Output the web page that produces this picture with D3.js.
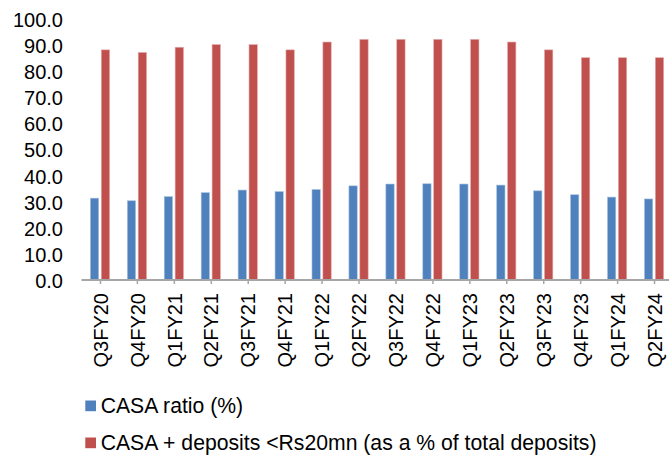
<!DOCTYPE html>
<html>
<head>
<meta charset="utf-8">
<script src="https://cdn.jsdelivr.net/npm/d3@7/dist/d3.min.js"></script>
<style>
  html, body { margin: 0; padding: 0; background: #fff; }
  svg { display: block; font-family: "Liberation Sans", Arial, sans-serif; }
</style>
</head>
<body>
<svg id="chart" width="669" height="459"></svg>
<script>
// Quarterly deposit mix
const quarters = ["Q3FY20","Q4FY20","Q1FY21","Q2FY21","Q3FY21","Q4FY21","Q1FY22","Q2FY22",
                  "Q3FY22","Q4FY22","Q1FY23","Q2FY23","Q3FY23","Q4FY23","Q1FY24","Q2FY24"];
const casaRatio = [31.3, 30.3, 31.9, 33.4, 34.4, 33.8, 34.6, 36.0,
                   36.7, 36.8, 36.7, 36.3, 34.1, 32.6, 31.7, 31.0];
const casaPlusSmall = [88, 87, 89, 90, 90, 88, 91, 92,
                       92, 92, 92, 91, 88, 85, 85, 85];
const seriesNames = ["CASA ratio (%)", "CASA + deposits <Rs20mn (as a % of total deposits)"];
const seriesColors = ["#4F81BD", "#C0504D"];
const yTicks = [0, 10, 20, 30, 40, 50, 60, 70, 80, 90, 100];

const svg = d3.select("#chart");
const plotLeft = 81.5, plotRight = 672.5, plotTop = 18.5, plotBottom = 280;

const x0 = d3.scaleBand().domain(quarters).range([plotLeft, plotRight])
  .paddingInner(0.48).paddingOuter(0.24);
const x1 = d3.scaleBand().domain([0, 1]).range([0, x0.bandwidth()]).paddingInner(0.24);
const y = d3.scaleLinear().domain([0, 100]).range([plotBottom, plotTop]);

const rows = quarters.map((q, i) => ({ q, vals: [casaRatio[i], casaPlusSmall[i]] }));

// Bars
const groups = svg.append("g").selectAll("g").data(rows).join("g")
  .attr("transform", d => `translate(${x0(d.q)},0)`);
groups.selectAll("rect").data(d => d.vals.map((v, k) => ({ v, k }))).join("rect")
  .attr("x", d => x1(d.k))
  .attr("width", x1.bandwidth())
  .attr("y", d => y(d.v))
  .attr("height", d => y(0) - y(d.v))
  .attr("fill", d => seriesColors[d.k])
  .attr("stroke", d => d.k === 0 ? "#a9c1e0" : "#e0a8a6")
  .attr("stroke-width", 0.6);

// Y axis: labels only
const yAxis = svg.append("g").attr("transform", "translate(63,0)")
  .call(d3.axisLeft(y).tickValues(yTicks).tickFormat(d3.format(".1f")).tickSize(0).tickPadding(0));
yAxis.select(".domain").remove();
yAxis.selectAll("text")
  .attr("font-size", 20).attr("fill", "#000")
  .attr("font-family", "'Liberation Sans', Arial, sans-serif")
  .attr("dy", "0.38em");

// X axis with ticks at category centres
const xCentre = d3.scalePoint().domain(quarters)
  .range([x0(quarters[0]) + x0.bandwidth() / 2, x0(quarters[quarters.length - 1]) + x0.bandwidth() / 2]);
const xAxis = svg.append("g").attr("transform", `translate(0,${plotBottom})`)
  .call(d3.axisBottom(xCentre).tickSize(4).tickSizeOuter(0));
xAxis.select(".domain")
  .attr("d", `M${plotLeft},0H${plotRight}`)
  .attr("stroke", "#a6a6a6").attr("stroke-width", 2);
xAxis.selectAll(".tick line").attr("stroke", "#a6a6a6").attr("stroke-width", 1.5);
xAxis.selectAll("text")
  .attr("font-size", 20).attr("fill", "#000")
  .attr("font-family", "'Liberation Sans', Arial, sans-serif")
  .attr("text-anchor", "end")
  .attr("transform", "translate(0,13) rotate(-90)")
  .attr("x", 0).attr("y", 0).attr("dy", "0.36em");

// Legend
const legend = svg.append("g");
const legendRows = [413, 450];
seriesNames.forEach((name, k) => {
  legend.append("rect")
    .attr("x", 85.3).attr("y", legendRows[k] - 12.5)
    .attr("width", 10.7).attr("height", 10.7)
    .attr("fill", seriesColors[k]);
  legend.append("text")
    .attr("x", 100.7).attr("y", legendRows[k])
    .attr("font-size", 21.2).attr("fill", "#000")
    .text(name);
});
</script>
</body>
</html>
